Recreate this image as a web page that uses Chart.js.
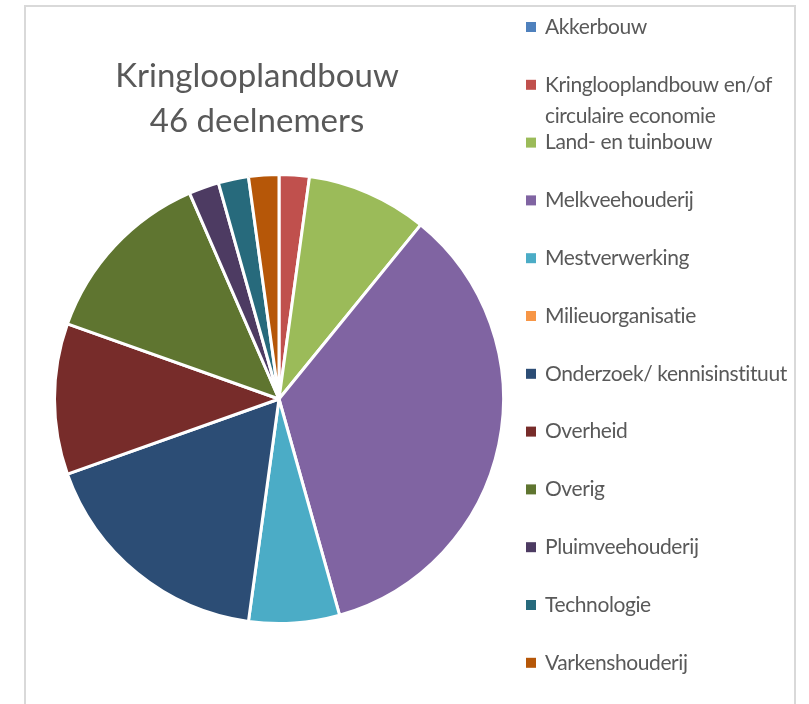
<!DOCTYPE html>
<html>
<head>
<meta charset="utf-8">
<script src="https://cdn.jsdelivr.net/npm/chart.js@4.4.1/dist/chart.umd.min.js"></script>
<style>
  html, body { margin: 0; padding: 0; background: #fff; }
  #wrap { width: 809px; height: 704px; position: relative; }
</style>
</head>
<body>
<div id="wrap"><canvas id="pie" width="809" height="704"></canvas></div>
<script>
const titleLines = ["Kringlooplandbouw", "46 deelnemers"];

const categories = [
  "Akkerbouw",
  "Kringlooplandbouw en/of circulaire economie",
  "Land- en tuinbouw",
  "Melkveehouderij",
  "Mestverwerking",
  "Milieuorganisatie",
  "Onderzoek/ kennisinstituut",
  "Overheid",
  "Overig",
  "Pluimveehouderij",
  "Technologie",
  "Varkenshouderij"
];

const counts = [0, 1, 4, 16, 3, 0, 8, 5, 6, 1, 1, 1];

const colors = [
  "#4f81bd", "#c0504d", "#9bbb59", "#8064a2", "#4bacc6", "#f79646",
  "#2c4d75", "#772c2a", "#5f7530", "#4d3b62", "#276a7c", "#b65708"
];

const FONT = "Lato, 'Open Sans', sans-serif";
const TEXT = "#595959";

// frame + title + legend, drawn on the same canvas
const decor = {
  id: "decor",
  beforeDraw(chart) {
    const ctx = chart.ctx;
    ctx.save();
    ctx.fillStyle = "#fff";
    ctx.fillRect(0, 0, chart.width, chart.height);
    ctx.strokeStyle = "#d9d9d9";
    ctx.lineWidth = 2;
    ctx.strokeRect(25, 6, 770, 720);
    ctx.restore();
  },
  afterDraw(chart) {
    const ctx = chart.ctx;
    ctx.save();
    ctx.fillStyle = TEXT;
    ctx.textAlign = "center";
    ctx.textBaseline = "middle";
    ctx.font = "33px " + FONT;
    titleLines.forEach((t, i) => ctx.fillText(t, 257, 76 + i * 45));

    ctx.textAlign = "left";
    ctx.font = "21px " + FONT;
    ctx.letterSpacing = "-0.4px";
    const labels = chart.data.labels;
    const bg = chart.data.datasets[0].backgroundColor;
    const maxW = 252;
    labels.forEach((lab, i) => {
      const y = 27 + i * 57.8;
      ctx.fillStyle = bg[i];
      ctx.fillRect(526, y - 5, 10, 10);
      ctx.fillStyle = TEXT;
      // simple word wrap
      const words = lab.split(" ");
      let line = "", lines = [];
      words.forEach(w => {
        const test = line ? line + " " + w : w;
        if (ctx.measureText(test).width > maxW && line) { lines.push(line); line = w; }
        else line = test;
      });
      lines.push(line);
      lines.forEach((l, j) => ctx.fillText(l, 545, y + j * 31));
    });
    ctx.restore();
  }
};

new Chart(document.getElementById("pie"), {
  type: "pie",
  data: {
    labels: categories,
    datasets: [{
      data: counts,
      backgroundColor: colors,
      borderColor: "#ffffff",
      borderWidth: 3
    }]
  },
  options: {
    responsive: false,
    animation: false,
    layout: { padding: { left: 53, right: 304, top: 173, bottom: 79 } },
    plugins: { legend: { display: false }, tooltip: { enabled: false } }
  },
  plugins: [decor]
});
</script>
</body>
</html>
